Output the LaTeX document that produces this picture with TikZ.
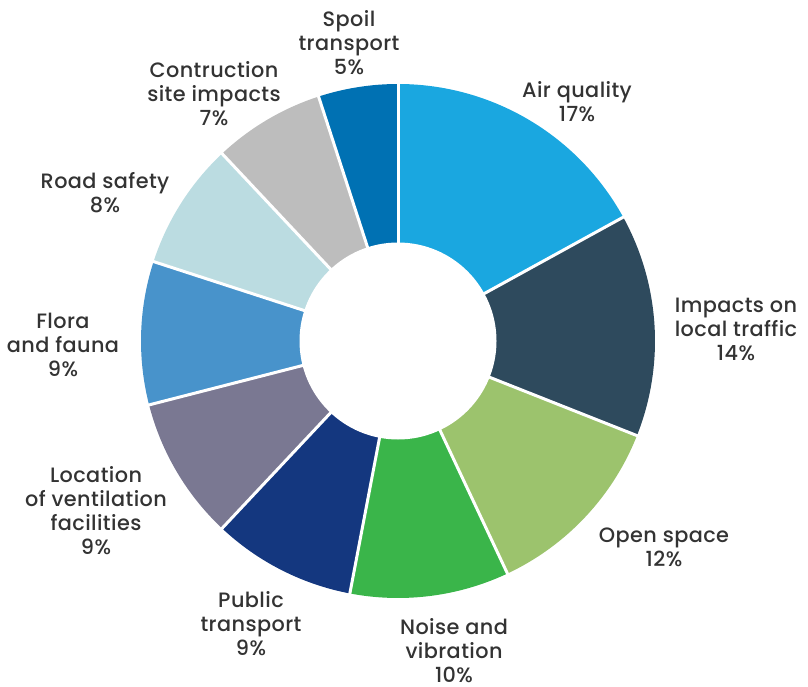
\documentclass[tikz,border=0pt]{standalone}
\usepackage{fontspec}
\setmainfont{Poppins}[UprightFont=* Medium, BoldFont=* SemiBold, LetterSpace=2]
\definecolor{cAir}{HTML}{1AA7E0}
\definecolor{cImp}{HTML}{2E4A5D}
\definecolor{cOpen}{HTML}{9CC36D}
\definecolor{cNoise}{HTML}{3AB54A}
\definecolor{cPub}{HTML}{14377F}
\definecolor{cLoc}{HTML}{7A7892}
\definecolor{cFlora}{HTML}{4893CB}
\definecolor{cRoad}{HTML}{BBDCE1}
\definecolor{cCon}{HTML}{BDBDBD}
\definecolor{cSpoil}{HTML}{0071B3}
\definecolor{cText}{HTML}{333333}
\begin{document}
\begin{tikzpicture}[x=1pt,y=1pt,
  lab/.style={align=center, text=cText, inner sep=0pt, font=\fontsize{20.8}{24}\selectfont},
  sep/.style={draw=white, line width=3pt}]
\useasboundingbox (0,0) rectangle (808,686);
\coordinate (c) at (398,345);
\def\R{257}
% slices (start angle, end angle)
\foreach \a/\b/\col in {90/28.8/cAir, 28.8/-21.6/cImp, -21.6/-64.8/cOpen, -64.8/-100.8/cNoise, -100.8/-133.2/cPub, -133.2/-165.6/cLoc, -165.6/-198/cFlora, -198/-226.8/cRoad, -226.8/-252/cCon, -252/-270/cSpoil}{
  \fill[\col] (c) -- ++(\a:\R) arc[start angle=\a, end angle=\b, radius=\R] -- cycle;
}
\foreach \a in {90,28.8,-21.6,-64.8,-100.8,-133.2,-165.6,-198,-226.8,-252}{
  \draw[sep] (c) -- ++(\a:\R+2);
}
\fill[white] (c) circle[radius=98.5];
% labels
\node[lab] (spoil) at (349,686-42.5) {Spoil\\transport\\5\%};
\node[lab] (con) at (214,686-94) {Contruction\\site impacts\\7\%};
\node[lab] (road) at (105,686-193) {Road safety\\8\%};
\node[lab] (flora) at (63,686-344.5) {Flora\\and fauna\\9\%};
\node[lab] (loc) at (96,686-510.5) {Location\\of ventilation\\facilities\\9\%};
\node[lab] (pub) at (251,686-623.5) {Public\\transport\\9\%};
\node[lab] (noise) at (454,686-651) {Noise and\\vibration\\10\%};
\node[lab] (open) at (664,686-547) {Open space\\12\%};
\node[lab] (imp) at (736,686-329.5) {Impacts on\\local traffic\\14\%};
\node[lab] (air) at (577,686-101.5) {Air quality\\17\%};
\end{tikzpicture}
\end{document}
